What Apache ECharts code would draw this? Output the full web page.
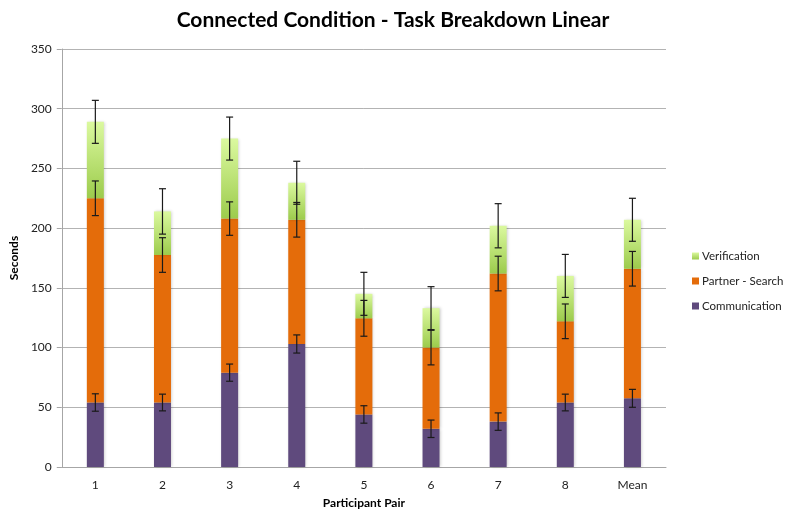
<!DOCTYPE html>
<html>
<head>
<meta charset="utf-8">
<script src="https://cdn.jsdelivr.net/npm/echarts@6/dist/echarts.min.js"></script>
<style>
html,body{margin:0;padding:0;background:#fff;overflow:hidden;}
#chart{width:786px;height:514px;}
</style>
</head>
<body>
<div id="chart"></div>
<script>
// Categories
const categories = ['1', '2', '3', '4', '5', '6', '7', '8', 'Mean'];
// Cumulative tops (seconds)
const communicationTop = [54, 54, 79, 103, 44, 32, 38, 54, 57.5];
const partnerSearchTop = [225, 177.5, 208, 207, 124.5, 100, 162, 122, 166];
const verificationTop = [289, 214, 275, 238, 145, 133, 202, 160, 207];
// Error bar half-lengths (seconds)
const communicationErr = [7.3, 7, 7.2, 7.6, 7.3, 7.3, 7.3, 7, 7.5];
const partnerSearchErr = [14.5, 14.5, 14, 14.5, 15, 14.5, 14.5, 14.5, 14.5];
const verificationErr = [18, 19, 18, 18, 18, 18, 18.5, 18, 18];
// Y axis ticks
const yMin = 0, yMax = 350, yStep = 50;

// Segment heights for stacking
const communicationSeg = communicationTop.slice();
const partnerSearchSeg = partnerSearchTop.map((v, i) => +(v - communicationTop[i]).toFixed(2));
const verificationSeg = verificationTop.map((v, i) => +(v - partnerSearchTop[i]).toFixed(2));

const font = 'Lato, "Open Sans", sans-serif';

function errData(tops, errs) {
  return tops.map((t, i) => [i, t, errs[i]]);
}
function errRender(params, api) {
  const idx = api.value(0);
  const top = api.value(1);
  const e = api.value(2);
  const hi = api.coord([idx, top + e]);
  const lo = api.coord([idx, top - e]);
  const x = hi[0];
  const cap = 3.5;
  const style = { stroke: '#1a1a1a', lineWidth: 1.2 };
  return {
    type: 'group',
    children: [
      { type: 'line', shape: { x1: x, y1: hi[1], x2: x, y2: lo[1] }, style },
      { type: 'line', shape: { x1: x - cap, y1: hi[1], x2: x + cap, y2: hi[1] }, style },
      { type: 'line', shape: { x1: x - cap, y1: lo[1], x2: x + cap, y2: lo[1] }, style }
    ]
  };
}

const barShadow = { shadowBlur: 3, shadowColor: 'rgba(0,0,0,0.22)', shadowOffsetX: 1, shadowOffsetY: 0 };

const chart = echarts.init(document.getElementById('chart'), null, { renderer: 'canvas' });
chart.setOption({
  animation: false,
  backgroundColor: '#ffffff',
  title: {
    text: 'Connected Condition - Task Breakdown Linear',
    left: 'center',
    top: 5,
    textStyle: { fontFamily: font, fontSize: 21, fontWeight: 'bold', color: '#000' }
  },
  legend: {
    orient: 'vertical',
    left: 687,
    top: 245,
    itemWidth: 7,
    itemHeight: 7,
    itemGap: 13,
    icon: 'rect',
    textStyle: { fontFamily: font, fontSize: 11.5, color: '#222', padding: [0, 0, 0, -2] },
    data: ['Verification', 'Partner - Search', 'Communication']
  },
  grid: { left: 58, right: 120, top: 49, bottom: 43, containLabel: false },
  xAxis: {
    type: 'category',
    data: categories,
    name: 'Participant Pair',
    nameLocation: 'middle',
    nameGap: 30,
    nameTextStyle: { fontFamily: font, fontSize: 12, fontWeight: 'bold', color: '#000' },
    axisLine: { lineStyle: { color: '#a6a6a6', width: 1 } },
    axisTick: { show: false },
    axisLabel: { fontFamily: font, fontSize: 12, color: '#222', margin: 12 }
  },
  yAxis: {
    type: 'value',
    min: yMin,
    max: yMax,
    interval: yStep,
    name: 'Seconds',
    nameLocation: 'middle',
    nameGap: 36,
    nameRotate: 90,
    nameTextStyle: { fontFamily: font, fontSize: 12, fontWeight: 'bold', color: '#000' },
    axisLine: { show: true, lineStyle: { color: '#a6a6a6', width: 1 } },
    axisTick: { show: true, inside: false, length: 5, lineStyle: { color: '#a6a6a6' } },
    splitLine: { lineStyle: { color: '#b3b3b3', width: 1 } },
    axisLabel: { fontFamily: font, fontSize: 12, color: '#222', margin: 10 }
  },
  series: [
    {
      name: 'Communication', type: 'bar', stack: 'total', barWidth: 17,
      itemStyle: Object.assign({ color: '#5f4a7d' }, barShadow),
      data: communicationSeg, z: 2
    },
    {
      name: 'Partner - Search', type: 'bar', stack: 'total', barWidth: 17,
      itemStyle: Object.assign({ color: '#e46c0a' }, barShadow),
      data: partnerSearchSeg, z: 2
    },
    {
      name: 'Verification', type: 'bar', stack: 'total', barWidth: 17,
      itemStyle: Object.assign({
        color: new echarts.graphic.LinearGradient(0, 0, 0, 1, [
          { offset: 0, color: '#dbf99f' },
          { offset: 1, color: '#9ccb4c' }
        ])
      }, barShadow),
      data: verificationSeg, z: 2
    },
    { name: 'errComm', type: 'custom', renderItem: errRender, data: errData(communicationTop, communicationErr), encode: { x: 0, y: 1 }, z: 5, silent: true },
    { name: 'errPartner', type: 'custom', renderItem: errRender, data: errData(partnerSearchTop, partnerSearchErr), encode: { x: 0, y: 1 }, z: 5, silent: true },
    { name: 'errVerif', type: 'custom', renderItem: errRender, data: errData(verificationTop, verificationErr), encode: { x: 0, y: 1 }, z: 5, silent: true }
  ]
});
</script>
</body>
</html>
